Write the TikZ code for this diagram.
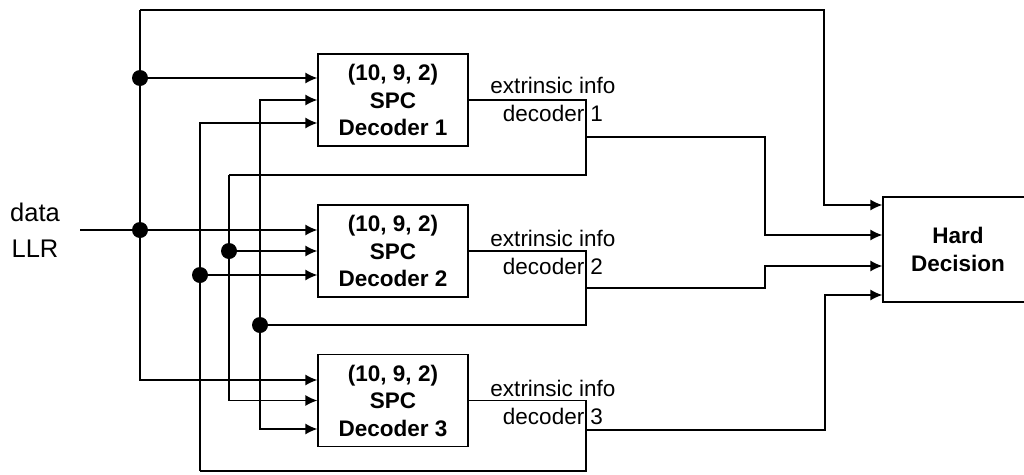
\documentclass[tikz,border=0pt]{standalone}
\usepackage{fontspec}
\setmainfont{Liberation Sans}
\usetikzlibrary{arrows.meta}
\begin{document}
\begin{tikzpicture}[x=1pt,y=-1pt,line width=1.3pt,
  dec/.style={draw,minimum width=150pt,minimum height=92pt,inner sep=0pt,align=center,font=\bfseries\fontsize{22.5}{27.5}\selectfont},
  lbl/.style={inner sep=0pt,align=center,font=\fontsize{22.5}{28}\selectfont},
  arr/.style={-{Latex[length=12pt,width=11pt]}},
  dot/.style={circle,fill,inner sep=0pt,minimum size=16pt}]
\useasboundingbox (0,0) rectangle (1024,474);
% blocks
\node[dec] (d1) at (393,100) {(10, 9, 2)\\SPC\\Decoder 1};
\node[dec] (d2) at (393,251) {(10, 9, 2)\\SPC\\Decoder 2};
\node[dec] (d3) at (393,400.5) {(10, 9, 2)\\SPC\\Decoder 3};
\node[dec,minimum height=105pt] (hd) at (958,249.5) {Hard\\Decision};
\node[lbl] (l1) at (553,99) {extrinsic info\\decoder 1};
\node[lbl] (l2) at (553,252.5) {extrinsic info\\decoder 2};
\node[lbl] (l3) at (553,402.5) {extrinsic info\\decoder 3};
\node[inner sep=0pt,align=center,font=\fontsize{25.5}{36}\selectfont] (data) at (35,230) {data\\LLR};
% coordinates
\coordinate (in) at (80,230);
\coordinate (t0) at (140,10);
\coordinate (t1) at (824,10);
\coordinate (j1) at (140,78);
\coordinate (j2) at (140,230);
\coordinate (b200) at (200,471);
\coordinate (j200) at (200,275);
\coordinate (c229) at (229,175);
\coordinate (j229) at (229,251);
\coordinate (j260) at (260,325);
\coordinate (o1b) at (586,175);
\coordinate (o1m) at (586,137);
\coordinate (m1) at (765,137);
\coordinate (o2b) at (586,325);
\coordinate (o2m) at (586,288);
\coordinate (m2) at (765,288);
\coordinate (o3b) at (586,471);
\coordinate (o3m) at (586,430);
\coordinate (m3) at (825,430);
% data distribution
\draw[arr] (in) -- ([yshift=21pt]d2.west);
\draw[arr] (t0) -- (t1) |- ([yshift=44.5pt]hd.west);
\draw[arr] (t0) |- ([yshift=20.5pt]d3.west);
\draw[arr] (j1) -- ([yshift=22pt]d1.west);
% decoder 1 output
\draw (d1.east) -| (o1b) -- (c229);
\draw[arr] (c229) |- (d3.west);
\draw[arr] (j229) -- (d2.west);
\draw[arr] (o1m) -- (m1) |- ([yshift=14.5pt]hd.west);
% decoder 2 output
\draw (d2.east) -| (o2b) -- (j260);
\draw[arr] (j260) |- (d1.west);
\draw[arr] (j260) |- ([yshift=-28.5pt]d3.west);
\draw[arr] (o2m) -- (m2) |- ([yshift=-16.5pt]hd.west);
% decoder 3 output
\draw (d3.east) -| (o3b) -- (b200);
\draw[arr] (b200) |- ([yshift=-23pt]d1.west);
\draw[arr] (j200) -- ([yshift=-24pt]d2.west);
\draw[arr] (o3m) -- (m3) |- ([yshift=-45.5pt]hd.west);
% junction dots
\node[dot] (p1) at (j1) {};
\node[dot] (p2) at (j2) {};
\node[dot] (p3) at (j200) {};
\node[dot] (p4) at (j229) {};
\node[dot] (p5) at (j260) {};
\end{tikzpicture}
\end{document}
